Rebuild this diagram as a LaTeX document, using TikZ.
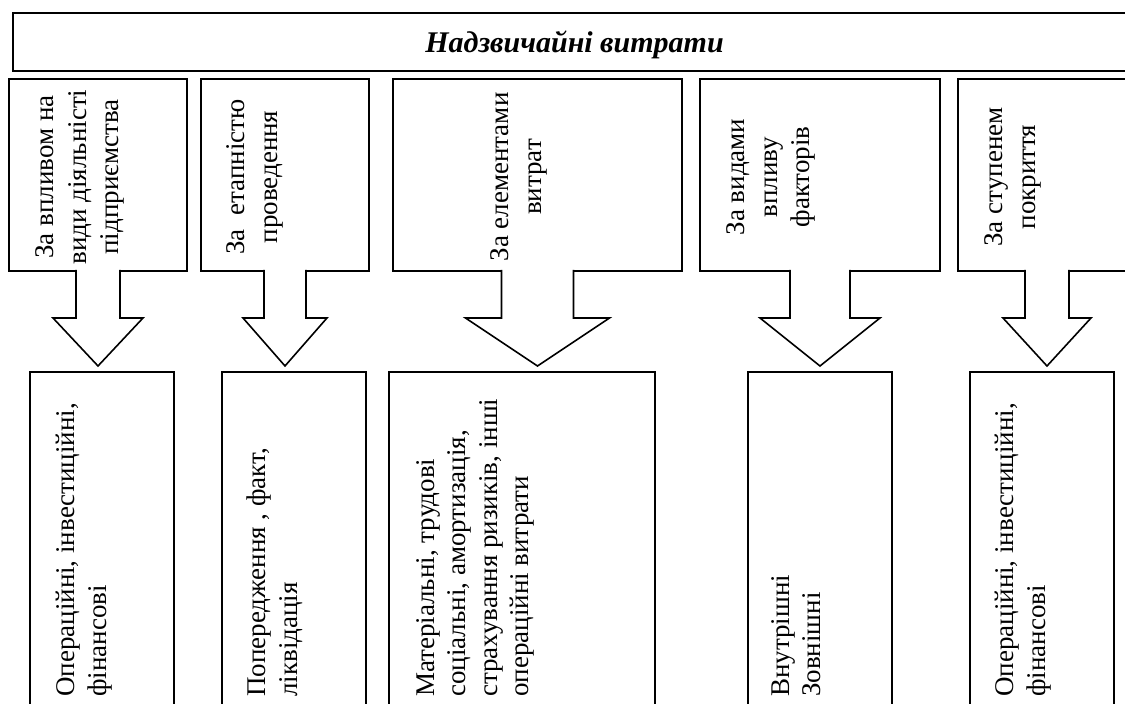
\documentclass[tikz,border=0pt]{standalone}
\usepackage{fontspec}
\setmainfont{Liberation Serif}
\usetikzlibrary{calc}

\tikzset{
  frame/.style={draw, line width=1.6pt, inner sep=0pt, outer sep=0pt, anchor=north west},
  bigarrow/.style={draw, fill=white, line width=1.6pt, line join=miter},
  crittext/.style={rotate=90, align=center, inner sep=0pt, font=\fontsize{27}{32.5}\selectfont},
  grouptext/.style={rotate=90, align=left, anchor=north west, inner sep=0pt, font=\fontsize{27}{31.5}\selectfont},
}

\begin{document}
\begin{tikzpicture}[x=1pt,y=1pt]
  \clip (0,0) rectangle (1125,704);

  % heading
  \node[frame, minimum width=1123pt, minimum height=58pt, text depth=0pt,
        font=\fontsize{30}{36}\selectfont\bfseries\itshape] (Head) at (13,691) {Надзвичайні витрати};

  % criteria
  \node[frame, minimum width=178pt, minimum height=192pt] (Crit1) at (9,625) {};
  \node[frame, minimum width=168pt, minimum height=192pt] (Crit2) at (201,625) {};
  \node[frame, minimum width=289pt, minimum height=192pt] (Crit3) at (393,625) {};
  \node[frame, minimum width=240pt, minimum height=192pt] (Crit4) at (700,625) {};
  \node[frame, minimum width=178pt, minimum height=192pt] (Crit5) at (958,625) {};

  \node[crittext] (CritText1) at (80,527) {За впливом на\\види діяльністі\\підприємства};
  \node[crittext] (CritText2) at (255,527) {За\ \ етапністю\\проведення};
  \node[crittext] (CritText3) at (519,527) {За елементами\\витрат};
  \node[crittext] (CritText4) at (771,527) {За видами\\впливу\\факторів};
  \node[crittext] (CritText5) at (1013,527) {За ступенем\\покриття};

  % groups
  \node[frame, minimum width=144pt, minimum height=345pt] (Group1) at (30,332) {};
  \node[frame, minimum width=144pt, minimum height=345pt] (Group2) at (222,332) {};
  \node[frame, minimum width=266pt, minimum height=345pt] (Group3) at (389,332) {};
  \node[frame, minimum width=144pt, minimum height=345pt] (Group4) at (748,332) {};
  \node[frame, minimum width=144pt, minimum height=345pt] (Group5) at (970,332) {};

  \node[grouptext] (GroupText1) at (56,7) {Операційні, інвестиційні,\\фінансові};
  \node[grouptext] (GroupText2) at (247,7) {Попередження , факт,\\ліквідація};
  \node[grouptext] (GroupText3) at (416,7) {Матеріальні, трудові\\соціальні, амортизація,\\страхування ризиків, інші\\операційні витрати};
  \node[grouptext] (GroupText4) at (771,7) {Внутрішні\\Зовнішні};
  \node[grouptext] (GroupText5) at (995,7) {Операційні, інвестиційні,\\фінансові};

  % block arrows
  \draw[bigarrow] ($(Crit1.south)+(-22,1)$) -- ++(0,-48) -- ++(-23,0) -- ($(Crit1.south |- Group1.north)+(0,6)$) -- ++(45,48) -- ++(-23,0) -- ++(0,48);
  \draw[bigarrow] ($(Crit2.south)+(-21,1)$) -- ++(0,-48) -- ++(-21,0) -- ($(Crit2.south |- Group2.north)+(0,6)$) -- ++(42,48) -- ++(-21,0) -- ++(0,48);
  \draw[bigarrow] ($(Crit3.south)+(-36,1)$) -- ++(0,-48) -- ++(-36,0) -- ($(Crit3.south |- Group3.north)+(0,6)$) -- ++(72,48) -- ++(-36,0) -- ++(0,48);
  \draw[bigarrow] ($(Crit4.south)+(-30,1)$) -- ++(0,-48) -- ++(-30,0) -- ($(Crit4.south |- Group4.north)+(0,6)$) -- ++(60,48) -- ++(-30,0) -- ++(0,48);
  \draw[bigarrow] ($(Crit5.south)+(-22,1)$) -- ++(0,-48) -- ++(-22,0) -- ($(Crit5.south |- Group5.north)+(0,6)$) -- ++(44,48) -- ++(-22,0) -- ++(0,48);
\end{tikzpicture}
\end{document}
